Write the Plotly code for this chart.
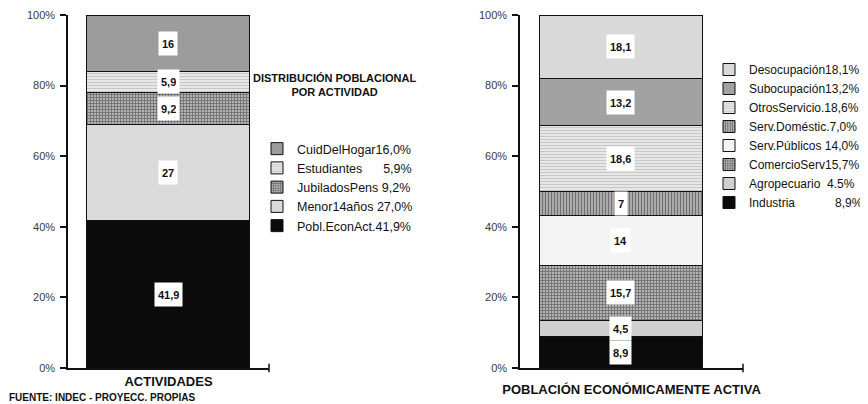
import plotly.graph_objects as go

# Datos
left_group = "ACTIVIDADES"
left_names = ["Pobl.EconAct.41,9%", "Menor14años 27,0%", "JubiladosPens 9,2%",
              "Estudiantes\u00a0\u00a0\u00a0\u00a0\u00a0\u00a05,9%", "CuidDelHogar16,0%"]
left_vals = [41.9, 27.0, 9.2, 5.9, 16.0]
left_text = ["41,9", "27", "9,2", "5,9", "16"]

right_group = "POBLACIÓN ECONÓMICAMENTE ACTIVA"
right_names = ["Industria\u00a0\u00a0\u00a0\u00a0\u00a0\u00a0\u00a0\u00a0\u00a0\u00a0\u00a0\u00a08,9%",
               "Agropecuario\u00a0\u00a04.5%", "ComercioServ15,7%", "Serv.Públicos 14,0%",
               "Serv.Doméstic.7,0%", "OtrosServicio.18,6%", "Subocupación13,2%", "Desocupación18,1%"]
right_vals = [8.9, 4.5, 15.7, 14.0, 7.0, 18.6, 13.2, 18.1]
right_text = ["8,9", "4,5", "15,7", "14", "7", "18,6", "13,2", "18,1"]

y_ticks = [0, 20, 40, 60, 80, 100]
y_ticktext = ["0%", "20%", "40%", "60%", "80%", "100%"]

# estilos de relleno
solid = lambda c: dict(color=c)
def pat(shape, bg, fg, size=3, sol=0.45):
	return dict(color=fg, pattern=dict(shape=shape, bgcolor=bg, fgcolor=fg, size=size, solidity=sol))

left_fill = [solid("#0b0b0b"), solid("#dadada"), pat("+", "#b4b4b4", "#2a2a2a", 3, 0.5),
             pat("-", "#eeeeee", "#a0a0a0"), solid("#9c9c9c")]
right_fill = [solid("#0b0b0b"), solid("#cfcfcf"), pat("+", "#b4b4b4", "#2a2a2a", 3, 0.5), solid("#f4f4f4"),
              pat("|", "#bdbdbd", "#262626", 3, 0.5), pat("-", "#eeeeee", "#a0a0a0"),
              solid("#a2a2a2"), solid("#d9d9d9")]

fig = go.Figure()

def add_stack(group, names, vals, texts, fills, xa, ya, leg):
	base = 0
	for n, v, t, f in zip(names, vals, texts, fills):
		m = dict(f)
		m["line"] = dict(color="#111", width=1)
		fig.add_trace(go.Bar(x=[group], y=[v], name=n, marker=m, width=1,
		                     xaxis=xa, yaxis=ya, legend=leg, hoverinfo="skip"))
		fig.add_annotation(x=group, y=base + v / 2, xref=xa, yref=ya, text=t, showarrow=False,
		                   bgcolor="white", borderpad=3, height=17,
		                   font=dict(family="Arial", size=11, color="#111", weight="bold"))
		base += v

add_stack(left_group, left_names, left_vals, left_text, left_fill, "x", "y", "legend")
add_stack(right_group, right_names, right_vals, right_text, right_fill, "x2", "y2", "legend2")

# la pagina tiene 8px de margen, se resta en todas las posiciones
off = 8
W, H = 868, 404 - off
px_x = lambda v: (v - off) / W
px_y = lambda v: 1 - (v - off) / H

ydom = [px_y(368), px_y(15)]
yax = dict(range=[0, 100], tickmode="array", tickvals=y_ticks, ticktext=y_ticktext,
           ticks="outside", ticklen=6, tickwidth=1.5, tickcolor="#111", ticklabelstandoff=3,
           showline=True, linecolor="#111", linewidth=1.5,
           showgrid=False, zeroline=False, domain=ydom, automargin=False,
           tickfont=dict(family="Arial", size=11, color="#3a3a3a"))
xax = dict(type="category", showline=True, linecolor="#111", linewidth=1.5, showgrid=False,
           showticklabels=False, ticks="", automargin=False)

fig.update_layout(
	width=W, height=H, margin=dict(l=0, r=0, t=0, b=0),
	paper_bgcolor="white", plot_bgcolor="white", barmode="stack", showlegend=True,
	xaxis=dict(xax, domain=[px_x(68), px_x(269)], range=[-0.617, 0.623],
	           title=dict(text=left_group, standoff=8, font=dict(family="Arial", size=13, color="#111", weight="bold"))),
	yaxis=dict(yax, anchor="x"),
	xaxis2=dict(xax, domain=[px_x(520), px_x(743)], range=[-0.623, 0.753], anchor="y2",
	            title=dict(text=right_group, standoff=16, font=dict(family="Arial", size=13, color="#111", weight="bold"))),
	yaxis2=dict(yax, anchor="x2"),
	legend=dict(x=px_x(257), y=px_y(134), xanchor="left", yanchor="top", bgcolor="rgba(0,0,0,0)",
	            font=dict(family="Arial", size=12.5, color="#111")),
	legend2=dict(x=px_x(709), y=px_y(55), xanchor="left", yanchor="top", bgcolor="rgba(0,0,0,0)",
	             font=dict(family="Arial", size=12, color="#111")),
)

fig.add_annotation(x=px_x(334), y=px_y(85), xref="paper", yref="paper", showarrow=False,
                   xanchor="center", yanchor="middle",
                   text="DISTRIBUCIÓN POBLACIONAL<br>POR ACTIVIDAD", align="center",
                   font=dict(family="Arial", size=11, color="#111", weight="bold"))
fig.add_annotation(x=px_x(7), y=px_y(397), xref="paper", yref="paper", showarrow=False,
                   xanchor="left", yanchor="middle", text="FUENTE: INDEC - PROYECC. PROPIAS",
                   font=dict(family="Arial", size=10, color="#111", weight="bold"))

# marca al final del eje x
for xr, yr in [("x domain", "y domain"), ("x2 domain", "y2 domain")]:
	fig.add_shape(type="line", xref=xr, yref=yr, x0=1, x1=1, y0=-0.012, y1=0.012,
	              line=dict(color="#111", width=1.5))

fig.write_html("out.html")
